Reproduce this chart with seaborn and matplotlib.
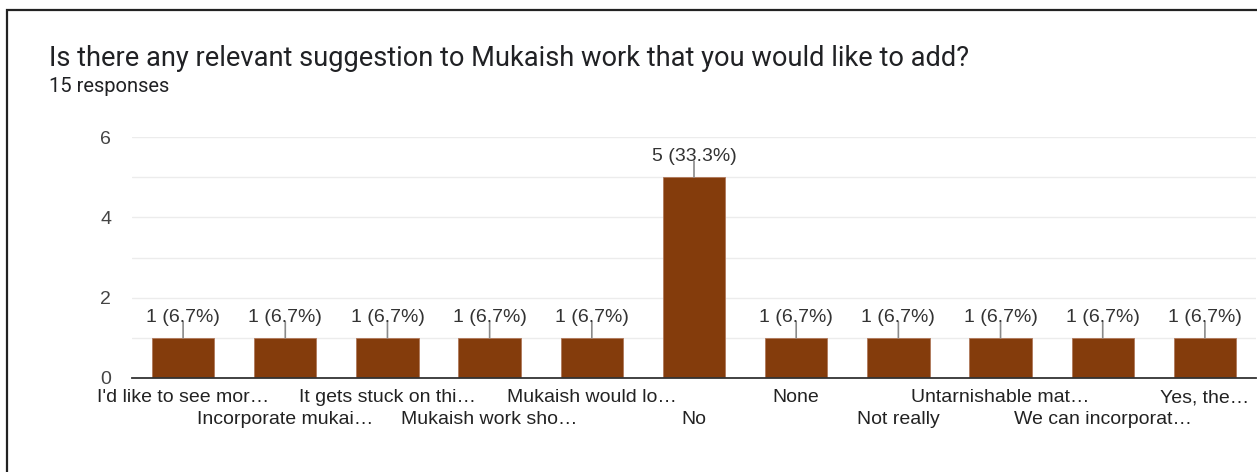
import matplotlib
matplotlib.use("Agg")
import matplotlib.pyplot as plt
from matplotlib.patches import Rectangle
import seaborn as sns
import pandas as pd

# Survey answers (shortened as shown) and their counts
categories = [
    "I'd like to see mor…", "Incorporate mukai…", "It gets stuck on thi…",
    "Mukaish work sho…", "Mukaish would lo…", "No", "None", "Not really",
    "Untarnishable mat…", "We can incorporat…", "Yes, the…",
]
counts = [1, 1, 1, 1, 1, 5, 1, 1, 1, 1, 1]
total_responses = 15
y_ticks = [0, 2, 4, 6]

title = "Is there any relevant suggestion to Mukaish work that you would like to add?"
subtitle = f"{total_responses} responses"

bar_color = "#843c0c"

df = pd.DataFrame({"answer": categories, "count": counts})

sns.set_theme(style="white")
plt.rcParams["font.family"] = ["Liberation Sans", "DejaVu Sans"]

fig = plt.figure(figsize=(12.57, 4.72), dpi=100)
ax = fig.add_axes([132 / 1257, 94 / 472, 1124 / 1257, 241 / 472])

sns.barplot(data=df, x="answer", y="count", color=bar_color, saturation=1,
            width=0.61, edgecolor="#b0785a", linewidth=0.6, ax=ax)

ax.set_ylim(0, 6)
ax.set_xlim(-0.5, len(categories) - 0.5)
ax.set_yticks(range(0, 7), minor=True)
ax.set_yticks(y_ticks)
ax.set_yticklabels([str(t) for t in y_ticks], fontsize=14, color="#444444")
ax.grid(axis="y", which="both", color="#ececec", linewidth=1)
ax.set_axisbelow(True)
ax.tick_params(axis="y", which="both", length=0, pad=15)

# Staggered category labels: even positions on the first row (major ticks),
# odd positions on the second row (minor ticks)
even = list(range(0, len(categories), 2))
odd = list(range(1, len(categories), 2))
ax.set_xticks(even)
ax.set_xticklabels([categories[i] for i in even], fontsize=14, color="#222222")
ax.set_xticks(odd, minor=True)
ax.set_xticklabels([categories[i] for i in odd], minor=True, fontsize=14,
                   color="#222222")
ax.tick_params(axis="x", which="major", length=0, pad=8)
ax.tick_params(axis="x", which="minor", length=0, pad=24)
ax.set_xlabel("")
ax.set_ylabel("")

for side in ["top", "right", "left"]:
    ax.spines[side].set_visible(False)
ax.spines["bottom"].set_color("#333333")
ax.spines["bottom"].set_linewidth(1.3)

# Value labels with leader lines
for i, v in enumerate(counts):
    pct = 100 * v / total_responses
    ax.annotate("", xy=(i, v), xytext=(0, 16), textcoords="offset pixels",
                arrowprops=dict(arrowstyle="-", color="#8a8a8a", lw=1.2,
                                shrinkA=0, shrinkB=0))
    ax.annotate(f"{v} ({pct:.1f}%)", xy=(i, v), xytext=(0, 12),
                textcoords="offset pixels", ha="center", va="bottom",
                fontsize=14, color="#333333")

fig.text(49 / 1257, 1 - 58 / 472, title, fontsize=19.6, color="#202124",
         family=["Roboto", "DejaVu Sans"], va="center", ha="left")
fig.text(49 / 1257, 1 - 86 / 472, subtitle, fontsize=14.5, color="#202124",
         family=["Roboto", "DejaVu Sans"], va="center", ha="left")

# Card border
fig.patches.append(Rectangle((7 / 1257, -0.1), 1.2, 1 - 10 / 472 + 0.1,
                             transform=fig.transFigure, fill=False,
                             edgecolor="#222222", linewidth=1.6))

fig.savefig("out.png", dpi=100, facecolor="white")
